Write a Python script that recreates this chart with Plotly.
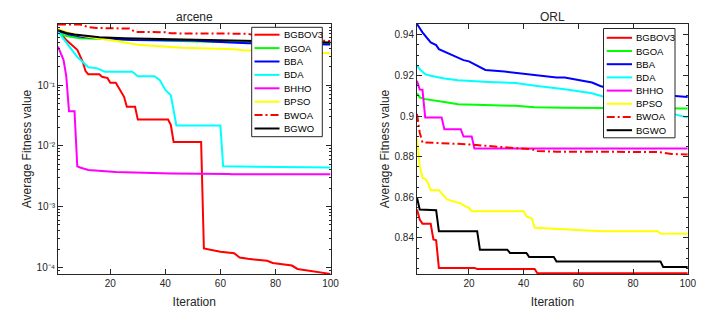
import plotly.graph_objects as go

W, H = 716, 321

# ---------------- data ----------------
series_names = ["BGBOV3", "BGOA", "BBA", "BDA", "BHHO", "BPSO", "BWOA", "BGWO"]
series_colors = ["#ff0000", "#00ff00", "#0000ff", "#00ffff", "#ff00ff", "#ffff00", "#ff0000", "#000000"]
series_dashes = ["solid", "solid", "solid", "solid", "solid", "solid", "8px,3px,2px,3px", "solid"]

panel_titles = ["arcene", "ORL"]
x_label = "Iteration"
y_label = "Average Fitness value"
x_tickvals = [20, 40, 60, 80, 100]
arcene_tickvals = [1e-4, 1e-3, 1e-2, 1e-1]
arcene_ticktext = ["10\u207b\u2074", "10\u207b\u00b3", "10\u207b\u00b2", "10\u207b\u00b9"]
orl_tickvals = [0.84, 0.86, 0.88, 0.90, 0.92, 0.94]
orl_ticktext = ["0.84", "0.86", "0.88", "0.9", "0.92", "0.94"]

# arcene (log scale)
arc_BGBOV3_x = [1, 4, 8, 9, 10, 11, 12, 16, 17, 19, 20, 22, 25, 26, 29, 30, 41, 42, 43, 53, 54, 60, 65, 67, 70, 77, 79, 86, 88, 100]
arc_BGBOV3_y = [0.80, 0.55, 0.38, 0.30, 0.24, 0.17, 0.15, 0.15, 0.137, 0.13, 0.109, 0.109, 0.064, 0.044, 0.044, 0.027, 0.027,
                0.022, 0.0116, 0.0116, 2.04e-4, 1.8e-4, 1.7e-4, 1.45e-4, 1.38e-4, 1.28e-4, 1.18e-4, 1.07e-4, 9.4e-5, 7.8e-5]
arc_BGOA_x = [1, 3, 6, 9, 20, 30, 45, 60, 80, 100]
arc_BGOA_y = [0.755, 0.66, 0.62, 0.59, 0.57, 0.55, 0.53, 0.51, 0.49, 0.48]
arc_BBA_x = [1, 5, 10, 20, 28, 40, 50, 60, 70, 85, 100]
arc_BBA_y = [0.78, 0.68, 0.62, 0.58, 0.55, 0.545, 0.54, 0.51, 0.49, 0.475, 0.465]
arc_BDA_x = [1, 4, 8, 10, 12, 15, 16, 18, 28, 29, 30, 36, 38, 40, 41, 42, 44, 60, 61, 100]
arc_BDA_y = [0.755, 0.50, 0.29, 0.24, 0.196, 0.19, 0.18, 0.166, 0.166, 0.15, 0.14, 0.14, 0.12, 0.083, 0.075, 0.068,
             0.0216, 0.0216, 0.0046, 0.0044]
arc_BHHO_x = [1, 3, 4, 5, 7, 8, 9, 12, 22, 42, 63, 64, 100]
arc_BHHO_y = [0.43, 0.26, 0.14, 0.037, 0.037, 0.0046, 0.0044, 0.0040, 0.0037, 0.0035, 0.00345, 0.0034, 0.0034]
arc_BPSO_x = [1, 5, 10, 16, 22, 30, 46, 65, 68, 80, 100]
arc_BPSO_y = [0.83, 0.72, 0.64, 0.59, 0.53, 0.46, 0.41, 0.39, 0.375, 0.36, 0.335]
arc_BWOA_x = [1, 9, 12, 15, 27, 29, 40, 42, 70, 72, 85, 95, 100]
arc_BWOA_y = [0.99, 0.99, 0.90, 0.87, 0.85, 0.75, 0.74, 0.71, 0.70, 0.66, 0.58, 0.54, 0.53]
arc_BGWO_x = [1, 4, 7, 12, 16, 25, 40, 55, 70, 85, 100]
arc_BGWO_y = [0.80, 0.72, 0.68, 0.64, 0.61, 0.59, 0.57, 0.55, 0.53, 0.51, 0.50]

# ORL (linear scale)
orl_BGBOV3_x = [1, 2, 3, 6, 7, 8, 9, 22, 23, 44, 45, 100]
orl_BGBOV3_y = [0.854, 0.849, 0.847, 0.847, 0.8392, 0.8388, 0.8252, 0.8252, 0.8247, 0.8247, 0.8226, 0.8226]
orl_BGOA_x = [1, 2, 4, 6, 11, 16, 27, 37, 44, 55, 100]
orl_BGOA_y = [0.9112, 0.9091, 0.9083, 0.9078, 0.9069, 0.9058, 0.9053, 0.905, 0.9043, 0.904, 0.9037]
orl_BBA_x = [1, 3, 6, 8, 9, 12, 17, 18, 20, 23, 26, 33, 39, 45, 52, 55, 59, 65, 68, 75, 85, 94, 100]
orl_BBA_y = [0.9453, 0.9412, 0.9362, 0.9349, 0.9329, 0.931, 0.928, 0.9275, 0.9269, 0.9247, 0.9227, 0.9219, 0.9209,
             0.9198, 0.919, 0.919, 0.9181, 0.9165, 0.9148, 0.912, 0.911, 0.9102, 0.9094]
orl_BDA_x = [1, 2, 4, 6, 11, 16, 27, 37, 45, 52, 55, 65, 69, 80, 95, 100]
orl_BDA_y = [0.925, 0.923, 0.9206, 0.9198, 0.9185, 0.9176, 0.9168, 0.9162, 0.9148, 0.9137, 0.9132, 0.9112, 0.9096,
             0.906, 0.9009, 0.8992]
orl_BHHO_x = [1, 2, 3, 4, 10, 11, 17, 18, 21, 22, 100]
orl_BHHO_y = [0.9173, 0.9130, 0.9129, 0.8992, 0.8992, 0.8935, 0.8935, 0.8899, 0.8899, 0.8840, 0.8840]
orl_BPSO_x = [1, 2, 3, 4, 5, 6, 9, 11, 12, 14, 17, 18, 20, 21, 40, 41, 42, 43, 44, 57, 69, 89, 90, 100]
orl_BPSO_y = [0.8889, 0.8753, 0.8696, 0.8691, 0.8671, 0.8635, 0.8635, 0.8605, 0.8589, 0.8581, 0.8569, 0.856, 0.8548,
              0.8531, 0.8531, 0.8506, 0.8502, 0.8495, 0.845, 0.8441, 0.8433, 0.8432, 0.8421, 0.842]
orl_BWOA_x = [1, 2, 3, 12, 19, 32, 43, 45, 52, 89, 94, 100]
orl_BWOA_y = [0.901, 0.8918, 0.887, 0.8866, 0.8861, 0.8847, 0.8836, 0.8828, 0.8824, 0.8823, 0.8813, 0.8811]
orl_BGWO_x = [1, 2, 8, 9, 23, 24, 34, 35, 41, 42, 51, 52, 90, 91, 100]
orl_BGWO_y = [0.8597, 0.854, 0.8536, 0.8433, 0.8433, 0.8342, 0.8342, 0.8326, 0.8326, 0.8306, 0.8306, 0.8284, 0.8284,
              0.8257, 0.8257]

arcene_series = [(arc_BGBOV3_x, arc_BGBOV3_y), (arc_BGOA_x, arc_BGOA_y), (arc_BBA_x, arc_BBA_y), (arc_BDA_x, arc_BDA_y),
                 (arc_BHHO_x, arc_BHHO_y), (arc_BPSO_x, arc_BPSO_y), (arc_BWOA_x, arc_BWOA_y), (arc_BGWO_x, arc_BGWO_y)]
orl_series = [(orl_BGBOV3_x, orl_BGBOV3_y), (orl_BGOA_x, orl_BGOA_y), (orl_BBA_x, orl_BBA_y), (orl_BDA_x, orl_BDA_y),
              (orl_BHHO_x, orl_BHHO_y), (orl_BPSO_x, orl_BPSO_y), (orl_BWOA_x, orl_BWOA_y), (orl_BGWO_x, orl_BGWO_y)]

# ---------------- layout helpers ----------------
def px(x):
    return x / W

def py(y):
    return 1 - y / H

FONT = "Liberation Sans, Arial, sans-serif"
AX_COLOR = "#262626"
title_font = dict(size=12, color=AX_COLOR, family=FONT)

fig = go.Figure()

for i, (xs, ys) in enumerate(arcene_series):
    fig.add_trace(go.Scatter(x=xs, y=ys, mode="lines", name=series_names[i], showlegend=False,
                             line=dict(color=series_colors[i], width=2, dash=series_dashes[i]),
                             xaxis="x", yaxis="y"))
for i, (xs, ys) in enumerate(orl_series):
    fig.add_trace(go.Scatter(x=xs, y=ys, mode="lines", name=series_names[i], showlegend=False,
                             line=dict(color=series_colors[i], width=2, dash=series_dashes[i]),
                             xaxis="x2", yaxis="y2"))

left_dom = [px(58), px(330.5)]
right_dom = [px(417), px(687.8)]
y_dom = [py(274), py(24)]

common_x = dict(range=[1, 100], tickmode="array", tickvals=x_tickvals, ticks="inside", ticklen=5,
                showline=True, linecolor=AX_COLOR, linewidth=1, mirror="ticks", tickcolor=AX_COLOR,
                showgrid=False, zeroline=False, tickfont=dict(size=10, color=AX_COLOR, family=FONT),
                title=dict(text=x_label, font=title_font, standoff=9), automargin=False)
common_y = dict(ticks="inside", ticklen=5, showline=True, linecolor=AX_COLOR, linewidth=1, mirror="ticks",
                tickcolor=AX_COLOR, showgrid=False, zeroline=False, automargin=False,
                tickfont=dict(size=10, color=AX_COLOR, family=FONT),
                title=dict(text=y_label, font=title_font, standoff=2))

fig.update_layout(
    width=W, height=H, margin=dict(l=0, r=0, t=0, b=0, pad=0),
    paper_bgcolor="white", plot_bgcolor="white",
    xaxis=dict(domain=left_dom, anchor="y", **common_x),
    yaxis=dict(domain=y_dom, anchor="x", type="log", range=[-4.11, 0.005], tickmode="array",
               tickvals=arcene_tickvals, ticktext=arcene_ticktext,
               minor=dict(ticks="inside", ticklen=2, tickcolor=AX_COLOR, dtick="D1"), **common_y),
    xaxis2=dict(domain=right_dom, anchor="y2", **common_x),
    yaxis2=dict(domain=y_dom, anchor="x2", range=[0.8222, 0.9453], tickmode="array",
                tickvals=orl_tickvals, ticktext=orl_ticktext,
                minor=dict(ticks="inside", ticklen=2, tickcolor=AX_COLOR, dtick=0.005, tick0=0.84), **common_y),
    showlegend=False,
)

annotations = []
shapes = []
# panel titles
for title, cx in zip(panel_titles, [194, 552]):
    annotations.append(dict(text=title, x=px(cx), y=py(16.7), xref="paper", yref="paper",
                            showarrow=False, xanchor="center", yanchor="middle", font=title_font))

# legends (one per panel)
legend_specs = [
    dict(box=(251.7, 27.3, 322.3, 136.7), first=34.7, step=13.4, line=(254.5, 279.5), text=281.5),
    dict(box=(603.5, 28.5, 675, 137.8), first=37.8, step=13.2, line=(606.7, 632), text=634),
]
for spec in legend_specs:
    x0, y0, x1, y1 = spec["box"]
    shapes.append(dict(type="rect", xref="paper", yref="paper", x0=px(x0), x1=px(x1), y0=py(y1), y1=py(y0),
                       line=dict(color=AX_COLOR, width=1), fillcolor="white", layer="above"))
    for i, name in enumerate(series_names):
        yy = spec["first"] + i * spec["step"]
        shapes.append(dict(type="line", xref="paper", yref="paper", x0=px(spec["line"][0]), x1=px(spec["line"][1]),
                           y0=py(yy), y1=py(yy), layer="above",
                           line=dict(color=series_colors[i], width=2, dash=series_dashes[i])))
        annotations.append(dict(text=name, x=px(spec["text"]), y=py(yy), xref="paper", yref="paper",
                                showarrow=False, xanchor="left", yanchor="middle",
                                font=dict(size=9.5, color="#000000", family=FONT)))

fig.update_layout(annotations=annotations, shapes=shapes)
fig.write_html("out.html", config={"displayModeBar": False},
               post_script="document.body.style.margin='0';")
